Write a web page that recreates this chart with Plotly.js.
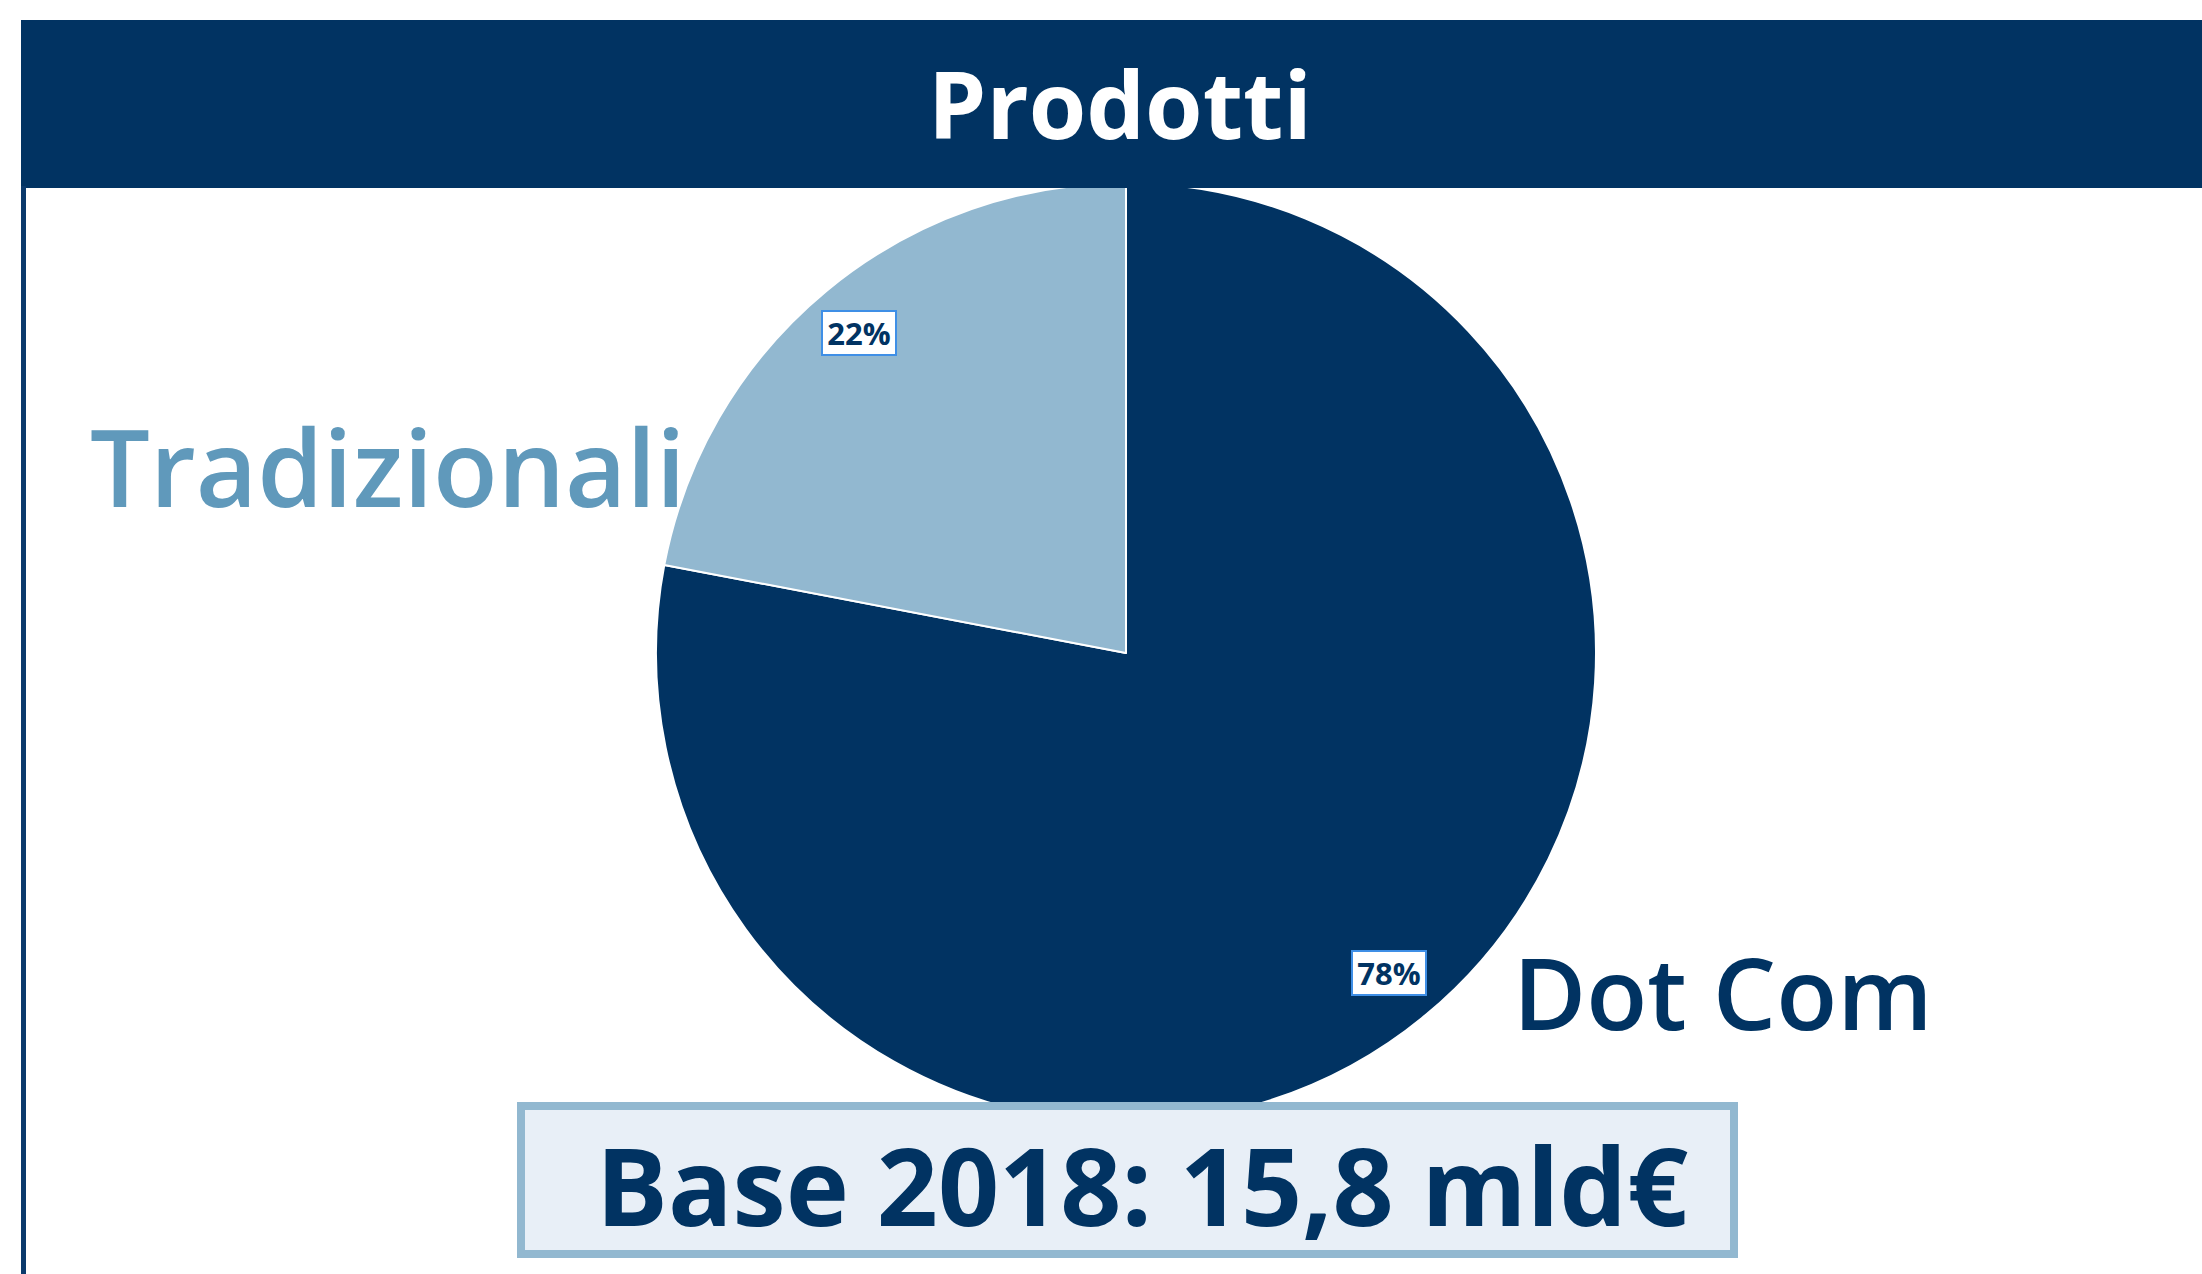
<!DOCTYPE html>
<html>
<head>
<meta charset="utf-8">
<script src="https://cdn.plot.ly/plotly-3.0.1.min.js"></script>
<style>html,body{margin:0;padding:0;background:#fff;}#chart{width:2202px;height:1274px;}</style>
</head>
<body>
<div id="chart"></div>
<script>
// ---- data ----
const categories = ["Dot Com", "Tradizionali"];
const values = [78, 22];
const chartTitle = "Prodotti";
const baseNote = "Base 2018: 15,8 mld€";

// ---- styling ----
const W = 2202, H = 1274;
const NAVY = "#013362";
const LIGHT = "#92b8d0";
const MID = "#6099bb";
const FONT = "Open Sans, Noto Sans, DejaVu Sans, sans-serif";

const px = x => x / W;
const py = y => 1 - y / H;

// pie geometry (pixels)
const cx = 1126, cy = 653, r = 470;

const total = values.reduce((a, b) => a + b, 0);
const annotations = [];

// percentage labels at mid-angle of each slice (clockwise from 12 o'clock)
let acc = 0;
values.forEach((v, i) => {
  const mid = (acc + v / 2) / total * 2 * Math.PI;
  acc += v;
  const lr = 0.885 * r;
  const lx = cx + Math.sin(mid) * lr;
  const ly = cy - Math.cos(mid) * lr;
  annotations.push({
    xref: "paper", yref: "paper", x: px(lx - 2), y: py(ly),
    xanchor: "center", yanchor: "middle", showarrow: false,
    text: Math.round(v / total * 100) + "%",
    font: {family: FONT, size: 31, color: NAVY, weight: 700},
    width: 68, height: 38,
    bgcolor: "#ffffff", bordercolor: "#3f8fe6", borderwidth: 2, borderpad: 2
  });
});

// category labels
annotations.push({
  xref: "paper", yref: "paper", x: px(88), y: py(466),
  xanchor: "left", yanchor: "middle", showarrow: false,
  text: categories[1],
  font: {family: FONT, size: 106, color: MID, weight: 600}
});
annotations.push({
  xref: "paper", yref: "paper", x: px(1511), y: py(991),
  xanchor: "left", yanchor: "middle", showarrow: false,
  text: categories[0],
  font: {family: FONT, size: 100, color: NAVY, weight: 650}
});
// title
annotations.push({
  xref: "paper", yref: "paper", x: px(1120), y: py(103),
  xanchor: "center", yanchor: "middle", showarrow: false,
  text: chartTitle,
  font: {family: FONT, size: 93, color: "#ffffff", weight: 700}
});
// base note
annotations.push({
  xref: "paper", yref: "paper", x: px(1142), y: py(1184),
  xanchor: "center", yanchor: "middle", showarrow: false,
  text: baseNote,
  font: {family: FONT, size: 107, color: NAVY, weight: 700}
});

const shapes = [
  {type: "rect", xref: "paper", yref: "paper", layer: "above",
   x0: px(21), x1: px(2202), y0: py(20), y1: py(188),
   fillcolor: NAVY, line: {width: 0}},
  {type: "line", xref: "paper", yref: "paper", layer: "above",
   x0: px(23.5), x1: px(23.5), y0: py(186), y1: py(1274),
   line: {color: "#0b3a6c", width: 5}},
  {type: "rect", xref: "paper", yref: "paper", layer: "above",
   x0: px(521), x1: px(1734), y0: py(1106), y1: py(1254),
   fillcolor: "#e8eff7", line: {color: LIGHT, width: 8}}
];

const trace = {
  type: "pie",
  labels: categories,
  values: values,
  sort: false,
  direction: "clockwise",
  rotation: 0,
  textinfo: "none",
  hoverinfo: "label+percent",
  showlegend: false,
  marker: {colors: [NAVY, LIGHT], line: {color: "#ffffff", width: 2}},
  domain: {x: [px(cx - r), px(cx + r)], y: [py(cy + r), py(cy - r)]}
};

const layout = {
  width: W, height: H,
  margin: {l: 0, r: 0, t: 0, b: 0, pad: 0},
  paper_bgcolor: "#ffffff",
  plot_bgcolor: "#ffffff",
  showlegend: false,
  annotations: annotations,
  shapes: shapes
};

Plotly.newPlot("chart", [trace], layout, {displayModeBar: false, staticPlot: true});
</script>
</body>
</html>
